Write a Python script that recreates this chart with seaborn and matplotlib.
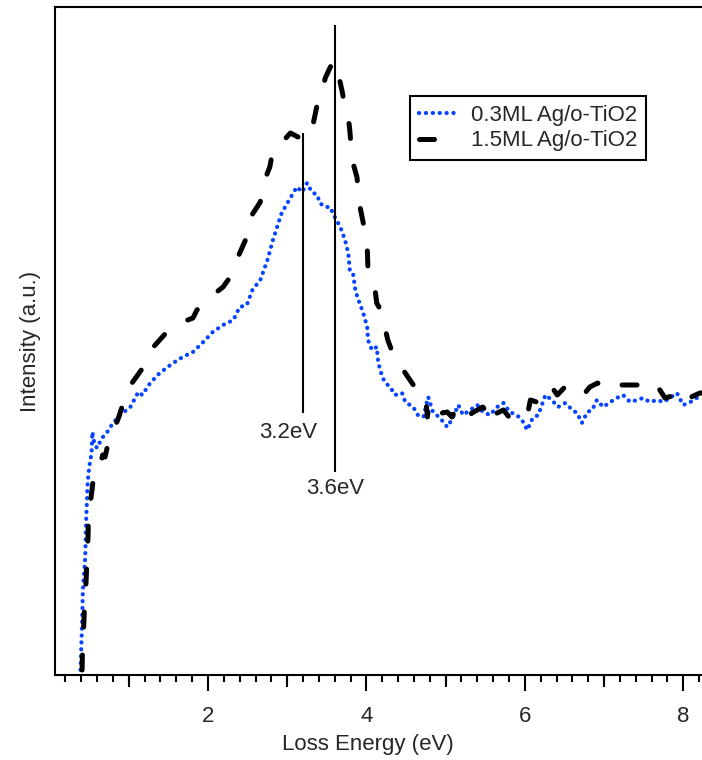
import numpy as np
import pandas as pd
import matplotlib
matplotlib.use("Agg")
import matplotlib.pyplot as plt
from matplotlib.ticker import MultipleLocator, FixedLocator, NullFormatter
import seaborn as sns

# Loss spectra (energy in eV, intensity in arbitrary units)
energy_03 = [0.39, 0.40, 0.41, 0.42, 0.45, 0.46, 0.47, 0.48, 0.50, 0.53, 0.54, 0.55,
             0.57, 0.60, 0.66, 0.72, 0.80, 0.89, 1.02, 1.12, 1.17, 1.27, 1.39, 1.56,
             1.68, 1.81, 1.94, 2.06, 2.19, 2.32, 2.40, 2.49, 2.56, 2.66, 2.75, 2.82,
             2.88, 2.93, 3.01, 3.12, 3.19, 3.25, 3.31, 3.38, 3.41, 3.48, 3.54, 3.60,
             3.67, 3.73, 3.77, 3.79, 3.83, 3.86, 3.89, 3.96, 4.01, 4.02, 4.07, 4.13,
             4.15, 4.20, 4.24, 4.30, 4.36, 4.45, 4.49, 4.59, 4.65, 4.72, 4.78, 4.84,
             4.93, 5.02, 5.09, 5.16, 5.22, 5.31, 5.40, 5.47, 5.56, 5.65, 5.73, 5.81,
             5.90, 5.98, 6.03, 6.10, 6.17, 6.26, 6.34, 6.42, 6.51, 6.60, 6.66, 6.72,
             6.79, 6.85, 6.91, 6.99, 7.08, 7.16, 7.24, 7.33, 7.42, 7.49, 7.58, 7.67,
             7.75, 7.83, 7.92, 8.00, 8.09, 8.17, 8.25]
intensity_03 = [5, 28, 52, 85, 118, 152, 172, 192, 208, 222, 243, 238,
                230, 227, 237, 242, 252, 260, 268, 283, 280, 292, 302, 312,
                318, 323, 333, 343, 350, 355, 368, 370, 385, 395, 415, 435,
                450, 462, 473, 488, 483, 492, 483, 480, 472, 468, 468, 458,
                448, 435, 422, 405, 402, 385, 377, 362, 348, 335, 325, 328,
                312, 298, 292, 288, 280, 282, 273, 268, 260, 258, 278, 263,
                257, 248, 257, 270, 260, 265, 270, 263, 260, 268, 272, 263,
                260, 253, 245, 257, 260, 280, 275, 268, 272, 265, 262, 252,
                263, 265, 275, 268, 273, 277, 280, 273, 275, 277, 273, 275,
                273, 277, 282, 270, 273, 277, 277]

energy_15 = [0.41, 0.415, 0.43, 0.44, 0.46, 0.47, 0.485, 0.49, 0.535, 0.55, 0.60, 0.67,
             0.70, 0.72, 0.74, 0.86, 0.91, 0.99, 1.04, 1.23, 1.31, 1.48, 1.58, 1.81,
             1.86, 2.06, 2.19, 2.28, 2.35, 2.49, 2.53, 2.66, 2.70, 2.78, 2.82, 2.96,
             3.04, 3.16, 3.20, 3.33, 3.38, 3.45, 3.48, 3.58, 3.63, 3.69, 3.73, 3.77,
             3.79, 3.82, 3.88, 3.92, 3.96, 4.01, 4.02, 4.11, 4.13, 4.20, 4.24, 4.27,
             4.34, 4.40, 4.49, 4.61, 4.64, 4.75, 4.77, 4.79, 4.84, 4.96, 5.02, 5.08,
             5.12, 5.28, 5.33, 5.47, 5.52, 5.59, 5.65, 5.73, 5.81, 5.88, 6.04, 6.07,
             6.15, 6.22, 6.34, 6.41, 6.53, 6.60, 6.76, 6.82, 6.92, 7.01, 7.14, 7.23,
             7.43, 7.52, 7.68, 7.77, 7.99, 8.02, 8.21, 8.25]
intensity_15 = [5, 25, 48, 68, 93, 113, 138, 158, 185, 195, 198, 220,
                218, 225, 233, 255, 267, 283, 292, 313, 328, 343, 350, 357,
                365, 380, 388, 398, 413, 438, 457, 473, 492, 508, 525, 535,
                542, 537, 551, 552, 571, 587, 597, 614, 606, 585, 568, 558,
                545, 515, 498, 468, 452, 428, 405, 385, 372, 362, 345, 335,
                320, 313, 302, 288, 280, 275, 258, 272, 273, 262, 263, 258,
                265, 255, 262, 268, 263, 252, 262, 265, 257, 265, 263, 275,
                273, 285, 288, 280, 290, 283, 282, 288, 292, 285, 290, 290,
                290, 283, 288, 277, 282, 275, 282, 282]

series_labels = ["0.3ML Ag/o-TiO2", "1.5ML Ag/o-TiO2"]
peak_energies = [3.2, 3.6]
peak_labels = ["3.2eV", "3.6eV"]
x_ticks = [2, 4, 6, 8]

sns.set_style("ticks")
plt.rcParams["font.family"] = ["Liberation Sans", "DejaVu Sans"]
plt.rcParams["font.size"] = 16

df = pd.concat([
    pd.DataFrame({"energy": energy_03, "intensity": intensity_03, "sample": series_labels[0]}),
    pd.DataFrame({"energy": energy_15, "intensity": intensity_15, "sample": series_labels[1]}),
], ignore_index=True)

fig = plt.figure(figsize=(7.02, 7.60), dpi=100)
ax = fig.add_axes([55 / 702, 85 / 760, 1 - 55 / 702, 668 / 760])

sns.lineplot(data=df, x="energy", y="intensity", hue="sample",
             palette={series_labels[0]: "#0645ff", series_labels[1]: "black"},
             sort=False, estimator=None, ax=ax, legend=False)

blue_line, black_line = ax.lines[0], ax.lines[1]
blue_line.set_linewidth(3.0)
blue_line.set_dashes((0.05, 1.6))
blue_line.set_dash_capstyle("round")
black_line.set_linewidth(3.6)
black_line.set_dashes((3.0, 5.6))
black_line.set_dash_capstyle("round")

# Peak markers
ax.vlines(peak_energies[0], 262, 542, color="black", lw=1.5)
ax.vlines(peak_energies[1], 203, 650, color="black", lw=1.5)
ax.text(3.01, 243, peak_labels[0], ha="center", va="center", fontsize=16)
ax.text(3.60, 187, peak_labels[1], ha="center", va="center", fontsize=16)

ax.set_xlim(0.068, 8.237)
ax.set_ylim(0, 668)

ax.xaxis.set_major_locator(FixedLocator(x_ticks))
ax.xaxis.set_minor_locator(MultipleLocator(0.2))
ax.set_yticks([])
ax.tick_params(axis="x", which="major", direction="out", length=11.5, width=1.5,
               labelsize=16, pad=10.5, color="black")
ax.tick_params(axis="x", which="minor", direction="out", length=5, width=1.5, color="black")

# Medium-length ticks at odd integers
sec = ax.secondary_xaxis("bottom")
sec.xaxis.set_major_locator(FixedLocator([1, 3, 5, 7]))
sec.xaxis.set_major_formatter(NullFormatter())
sec.tick_params(axis="x", direction="out", length=8.6, width=1.5, color="black")
sec.spines["bottom"].set_visible(False)

for side in ["left", "bottom", "top"]:
    ax.spines[side].set_visible(True)
    ax.spines[side].set_linewidth(1.5)
    ax.spines[side].set_color("black")
ax.spines["right"].set_visible(False)

ax.set_xlabel("Loss Energy (eV)", fontsize=16, x=0.484, labelpad=5.5)
ax.set_ylabel("Intensity (a.u.)", fontsize=16, labelpad=10)

handles = [blue_line, black_line]
leg = ax.legend(handles, series_labels, loc="upper left",
                bbox_to_anchor=(410 / 702, 1 - 96 / 760), bbox_transform=fig.transFigure,
                frameon=True, fancybox=False, framealpha=1, edgecolor="black",
                fontsize=16, handlelength=1.75, handletextpad=0.6,
                borderpad=0.4, labelspacing=0.2, borderaxespad=0)
leg.get_frame().set_linewidth(1.5)

fig.savefig("out.png", dpi=100)
